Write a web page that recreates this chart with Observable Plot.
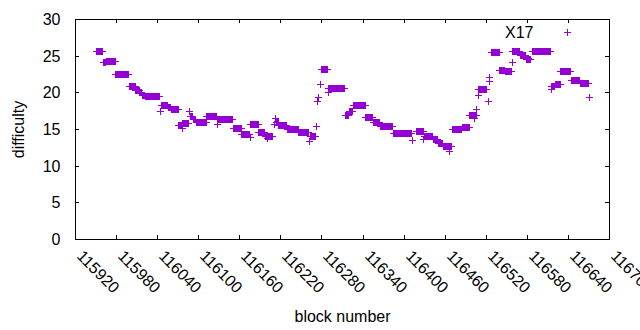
<!DOCTYPE html>
<html><head><meta charset="utf-8">
<script src="https://cdn.jsdelivr.net/npm/d3@7"></script>
<script src="https://cdn.jsdelivr.net/npm/@observablehq/plot@0.6"></script>
<style>
html,body{margin:0;padding:0;background:#fff;}
#chart{width:640px;height:330px;}
g[aria-label="dot"] path{shape-rendering:crispEdges;}
</style></head><body><div id="chart"></div>
<script>
// Runs of consecutive blocks sharing a difficulty value
const runStart = [115951,115961,115965,115979,115999,116008,116014,116018,116022,116044,116045,116056,116060,116071,116076,116077,116087,116088,116092,116097,116112,116127,116128,116151,116163,116175,116176,116188,116197,116200,116210,116212,116213,116217,116229,116246,116262,116263,116272,116274,116275,116278,116280,116289,116290,116314,116320,116326,116344,116355,116365,116384,116412,116418,116429,116430,116443,116450,116457,116466,116470,116485,116496,116503,116506,116508,116509,116523,116524,116525,116528,116540,116548,116558,116559,116570,116579,116581,116587,116615,116616,116621,116629,116644,116657,116671];
const runEnd   = [115960,115964,115978,115998,116007,116013,116017,116021,116043,116044,116055,116059,116070,116075,116076,116085,116087,116091,116096,116111,116126,116127,116150,116162,116174,116175,116187,116196,116208,116200,116210,116212,116216,116228,116245,116261,116262,116270,116272,116274,116275,116278,116288,116289,116313,116319,116325,116343,116354,116364,116383,116411,116412,116428,116429,116442,116449,116456,116469,116466,116484,116495,116505,116503,116506,116508,116521,116523,116524,116525,116539,116547,116557,116558,116569,116578,116585,116581,116614,116615,116620,116628,116643,116656,116670,116671];
const runValue = [25.7,24.1,24.25,22.45,20.8,20.3,20.0,19.65,19.45,17.4,18.3,18.0,17.7,15.5,15.2,15.8,17.4,16.8,16.35,16.0,16.75,15.65,16.35,15.1,14.3,13.85,15.65,14.55,14.1,13.8,15.7,16.5,15.9,15.5,15.0,14.65,13.4,14.05,15.35,18.85,19.35,21.2,23.15,20.05,20.55,16.9,17.45,18.25,16.6,15.9,15.4,14.45,13.5,14.75,13.7,14.1,13.6,13.1,12.7,11.95,14.95,15.25,16.9,16.5,17.75,19.7,20.4,18.85,21.5,22.1,25.55,23.1,22.85,24.1,25.65,25.1,24.5,24.7,25.65,20.5,20.85,21.1,22.9,21.65,21.25,19.3];
const xTicks = [115920,115980,116040,116100,116160,116220,116280,116340,116400,116460,116520,116580,116640,116700];
const yTicks = [0,5,10,15,20,25,30];
const seriesName = "X17";
const xLabel = "block number";
const yLabel = "difficulty";

const data = [];
runStart.forEach((s, i) => {
  for (let b = s; b <= runEnd[i]; b++) data.push({block: b, difficulty: runValue[i]});
});

const color = "#9400d3";
const font = "'Liberation Sans', Arial, sans-serif";
const fs = 16;
const plusSymbol = {
  draw(ctx, size) {
    const r = Math.sqrt(size / Math.PI);
    ctx.moveTo(-r, 0); ctx.lineTo(r, 0);
    ctx.moveTo(0, -r); ctx.lineTo(0, r);
  }
};
const frameW = 534, frameH = 220, tl = 4;

const chart = Plot.plot({
  width: 640, height: 330,
  marginLeft: 75, marginRight: 31, marginTop: 19, marginBottom: 91,
  style: {fontFamily: font, fontSize: fs + "px", background: "#fff", color: "#000"},
  x: {domain: [115920, 116700], axis: null, round: true},
  y: {domain: [0, 30], axis: null, round: true},
  marks: [
    Plot.tickX(xTicks, {x: d => d, insetTop: frameH - tl, stroke: "#000"}),
    Plot.tickX(xTicks, {x: d => d, insetBottom: frameH - tl, stroke: "#000"}),
    Plot.tickY(yTicks, {y: d => d, insetRight: frameW - tl, stroke: "#000"}),
    Plot.tickY(yTicks, {y: d => d, insetLeft: frameW - tl, stroke: "#000"}),
    Plot.dot(data, {x: "block", y: "difficulty", symbol: plusSymbol, r: 3.5, stroke: color, fill: "none", strokeWidth: 1}),
    Plot.frame({stroke: "#000"}),
    Plot.text(yTicks, {y: d => d, text: d => String(d), frameAnchor: "left", dx: -15, textAnchor: "end", fontSize: fs, fill: "#000"}),
    Plot.text(xTicks, {x: d => d, text: d => String(d), frameAnchor: "bottom", dx: 4, dy: 14, rotate: 45, textAnchor: "start", lineAnchor: "middle", fontSize: fs, fill: "#000"}),
    Plot.text([yLabel], {text: d => d, frameAnchor: "left", dx: -57, rotate: -90, textAnchor: "middle", lineAnchor: "middle", fontSize: fs, fill: "#000"}),
    Plot.text([xLabel], {text: d => d, frameAnchor: "bottom", dy: 77, textAnchor: "middle", lineAnchor: "middle", fontSize: fs, fill: "#000"}),
    Plot.text([seriesName], {text: d => d, frameAnchor: "top-right", dx: -76, dy: 13, textAnchor: "end", lineAnchor: "middle", fontSize: fs, fill: "#000"}),
    Plot.dot([seriesName], {frameAnchor: "top-right", dx: -42, dy: 13, symbol: plusSymbol, r: 3.5, stroke: color, fill: "none", strokeWidth: 1})
  ]
});
document.getElementById("chart").appendChild(chart);
</script></body></html>
